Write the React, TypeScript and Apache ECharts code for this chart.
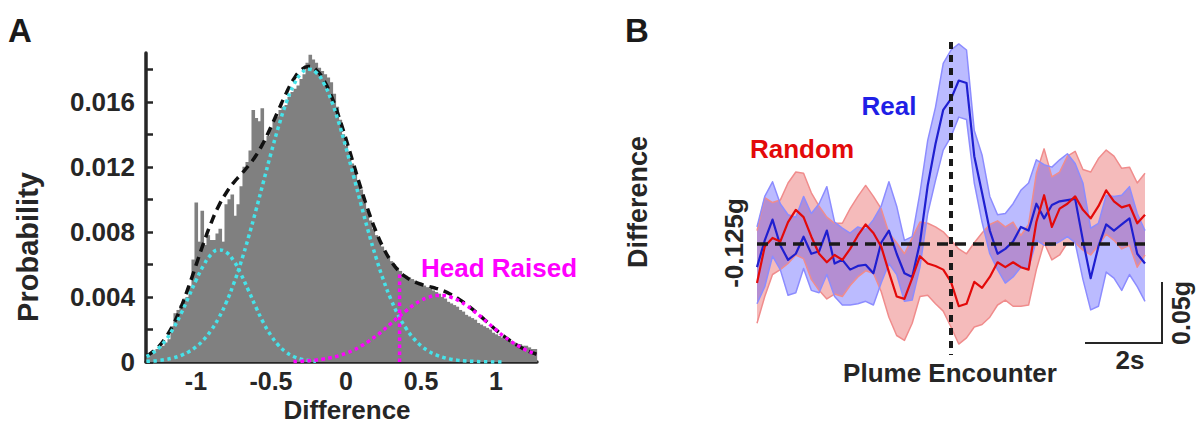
import React, { useEffect, useRef } from 'react';
import * as echarts from 'echarts';

const FONT = '"Liberation Sans", Arial, Helvetica, sans-serif';
const INK = '#262626';

// ---------- Panel A: histogram of "Difference" ----------
const HIST_FIRST_CENTER = -1.32;
const HIST_BIN = 0.02;
const HIST = [
  0.0003, 0.0005, 0.0006, 0.0008, 0.0009, 0.0010, 0.0012, 0.0014, 0.0022, 0.0030,
  0.0032, 0.0035, 0.0039, 0.0040, 0.0046, 0.0063, 0.0098, 0.0074, 0.0093, 0.0072,
  0.0078, 0.0075, 0.0075, 0.0079, 0.0082, 0.0074, 0.0097, 0.0100, 0.0103, 0.0090,
  0.0097, 0.0108, 0.0120, 0.0123, 0.0130, 0.0155, 0.0150, 0.0148, 0.0156, 0.0136,
  0.0139, 0.0144, 0.0148, 0.0151, 0.0155, 0.0157, 0.0158, 0.0163, 0.0166, 0.0168,
  0.0170, 0.0174, 0.0177, 0.0184, 0.0189, 0.0186, 0.0184, 0.0181, 0.0179, 0.0177,
  0.0175, 0.0172, 0.0165, 0.0157, 0.0149, 0.0140, 0.0133, 0.0128, 0.0122, 0.0117,
  0.0111, 0.0106, 0.0098, 0.0093, 0.0087, 0.0082, 0.0078, 0.0075, 0.0071, 0.0068,
  0.0065, 0.0062, 0.0060, 0.0058, 0.0056, 0.0054, 0.0053, 0.0052, 0.0051, 0.0050,
  0.0049, 0.0048, 0.0047, 0.0046, 0.0045, 0.0044, 0.0043, 0.0042, 0.0040, 0.0039,
  0.0037, 0.0036, 0.0035, 0.0034, 0.0032, 0.0031, 0.0029, 0.0028, 0.0027, 0.0026,
  0.0024, 0.0023, 0.0022, 0.0021, 0.0020, 0.0018, 0.0017, 0.0016, 0.0015, 0.0014,
  0.0013, 0.0013, 0.0012, 0.0011, 0.0011, 0.0010, 0.0010, 0.0009, 0.0008, 0.0008,
];

const FIT_X = [
  -1.33, -1.3, -1.25, -1.2, -1.15, -1.1, -1.05, -1.0, -0.95, -0.9,
  -0.85, -0.8, -0.75, -0.7, -0.65, -0.6, -0.55, -0.5, -0.45, -0.4,
  -0.35, -0.3, -0.25, -0.2, -0.15, -0.1, -0.05, 0.0, 0.05, 0.1,
  0.15, 0.2, 0.25, 0.3, 0.35, 0.4, 0.45, 0.5, 0.55, 0.6,
  0.65, 0.7, 0.75, 0.8, 0.85, 0.9, 0.95, 1.0, 1.05, 1.1,
  1.15, 1.2, 1.25, 1.27,
];
const FIT_LEFT = [
  0.00034, 0.00049, 0.00084, 0.00137, 0.00208, 0.00296, 0.00398, 0.00501, 0.00593, 0.0066,
  0.00689, 0.00676, 0.00624, 0.0054, 0.0044, 0.00336, 0.00241, 0.00163, 0.00103, 0.00061,
  0.00034, 0.00018, 0.00009, 0.00004, null, null, null, null, null, null,
  null, null, null, null, null, null, null, null, null, null,
  null, null, null, null, null, null, null, null, null, null,
  null, null, null, null,
];
const FIT_MAIN = [
  0.00004, 0.000055, 0.000094, 0.000157, 0.000254, 0.000401, 0.000618, 0.000927, 0.001356, 0.00193,
  0.00268, 0.00362, 0.00478, 0.00613, 0.00767, 0.00934, 0.01109, 0.01283, 0.01446, 0.01589,
  0.017, 0.01772, 0.018, 0.01781, 0.01717, 0.01613, 0.01477, 0.01317, 0.01145, 0.00969,
  0.00799, 0.00643, 0.00503, 0.00384, 0.00285, 0.00207, 0.00146, 0.001, 0.00067, 0.00044,
  0.00028, 0.00017, 0.0001, 0.00006, 0.00004, 0.00002, 0.00001, 0, 0, null,
  null, null, null, null,
];
const FIT_RAISED = [
  null, null, null, null, null, null, null, null, null, null,
  null, null, null, null, null, null, null, null, null, null,
  0.00003, 0.00005, 0.00008, 0.00012, 0.00018, 0.00027, 0.00038, 0.00054, 0.00073, 0.00098,
  0.00127, 0.0016, 0.00197, 0.00237, 0.00277, 0.00315, 0.0035, 0.00378, 0.00398, 0.00409,
  0.00409, 0.00398, 0.00378, 0.0035, 0.00315, 0.00277, 0.00237, 0.00197, 0.0016, 0.00127,
  0.00098, 0.00073, 0.00054, 0.00047,
];
const FIT_SUM = [
  0.00038, 0.00055, 0.00093, 0.00153, 0.00233, 0.00336, 0.0046, 0.00594, 0.00729, 0.00853,
  0.00957, 0.01038, 0.01102, 0.01153, 0.01207, 0.0127, 0.0135, 0.01446, 0.01549, 0.0165,
  0.01737, 0.01795, 0.01817, 0.01797, 0.01735, 0.0164, 0.01515, 0.01371, 0.01218, 0.01067,
  0.00926, 0.00803, 0.007, 0.00621, 0.00562, 0.00522, 0.00496, 0.00478, 0.00465, 0.00453,
  0.00437, 0.00415, 0.00388, 0.00356, 0.00319, 0.00279, 0.00238, 0.00197, 0.0016, 0.00127,
  0.00098, 0.00073, 0.00054, 0.00047,
];
const HEAD_RAISED_X = 0.357;
const HEAD_RAISED_TOP = 0.0055;
const X_TICKS_A = [-1, -0.5, 0, 0.5, 1];
const Y_TICKS_A = [0, 0.002, 0.004, 0.006, 0.008, 0.01, 0.012, 0.014, 0.016, 0.018];
const Y_LABELS_A = [0, 0.004, 0.008, 0.012, 0.016];

// ---------- Panel B: difference around plume encounter (t in s, value in g) ----------
const T_START = -5;
const T_STEP = 0.2;
const BASELINE = -0.125;
const BLUE_MEAN = [
  -0.144, -0.122, -0.105, -0.126, -0.138, -0.133, -0.119, -0.133, -0.131, -0.114,
  -0.141, -0.138, -0.146, -0.143, -0.142, -0.149, -0.124, -0.114, -0.133, -0.149,
  -0.152, -0.124, -0.077, -0.043, -0.015, -0.006, 0.009, 0.007, -0.053, -0.083,
  -0.114, -0.133, -0.129, -0.123, -0.111, -0.114, -0.092, -0.104, -0.093, -0.09,
  -0.089, -0.088, -0.122, -0.153, -0.127, -0.109, -0.114, -0.109, -0.104, -0.133, -0.141,
];
const BLUE_UP = [
  -0.111, -0.086, -0.074, -0.092, -0.101, -0.103, -0.086, -0.1, -0.092, -0.078,
  -0.107, -0.112, -0.116, -0.111, -0.113, -0.105, -0.094, -0.074, -0.094, -0.122,
  -0.119, -0.083, -0.04, -0.013, 0.023, 0.034, 0.039, 0.034, -0.032, -0.052,
  -0.086, -0.101, -0.1, -0.092, -0.081, -0.075, -0.056, -0.06, -0.062, -0.056,
  -0.051, -0.059, -0.075, -0.112, -0.108, -0.085, -0.086, -0.085, -0.078, -0.1, -0.114,
];
const BLUE_LO = [
  -0.174, -0.16, -0.135, -0.146, -0.167, -0.165, -0.145, -0.163, -0.165, -0.15,
  -0.168, -0.175, -0.175, -0.174, -0.172, -0.175, -0.157, -0.141, -0.15, -0.172,
  -0.171, -0.144, -0.1, -0.073, -0.048, -0.037, -0.021, -0.023, -0.075, -0.107,
  -0.133, -0.146, -0.157, -0.152, -0.144, -0.145, -0.122, -0.126, -0.126, -0.123,
  -0.119, -0.124, -0.154, -0.179, -0.176, -0.148, -0.153, -0.163, -0.15, -0.16, -0.172,
];
const RED_MEAN = [
  -0.157, -0.127, -0.12, -0.123, -0.107, -0.097, -0.103, -0.119, -0.133, -0.14,
  -0.134, -0.138, -0.129, -0.118, -0.109, -0.116, -0.127, -0.148, -0.168, -0.17,
  -0.153, -0.135, -0.141, -0.143, -0.146, -0.156, -0.176, -0.174, -0.156, -0.161,
  -0.152, -0.14, -0.144, -0.14, -0.144, -0.146, -0.107, -0.085, -0.111, -0.096,
  -0.092, -0.086, -0.097, -0.104, -0.094, -0.081, -0.09, -0.095, -0.093, -0.108, -0.101,
];
const RED_UP = [
  -0.114, -0.087, -0.091, -0.089, -0.075, -0.066, -0.067, -0.083, -0.094, -0.103,
  -0.108, -0.108, -0.096, -0.086, -0.077, -0.086, -0.096, -0.116, -0.124, -0.133,
  -0.12, -0.107, -0.108, -0.111, -0.115, -0.122, -0.129, -0.133, -0.124, -0.116,
  -0.109, -0.106, -0.111, -0.107, -0.118, -0.109, -0.067, -0.047, -0.07, -0.066,
  -0.053, -0.049, -0.064, -0.066, -0.055, -0.048, -0.053, -0.063, -0.062, -0.075, -0.067,
];
const RED_LO = [
  -0.19, -0.168, -0.15, -0.146, -0.141, -0.134, -0.137, -0.154, -0.163, -0.17,
  -0.166, -0.168, -0.159, -0.152, -0.147, -0.149, -0.164, -0.185, -0.2, -0.204,
  -0.19, -0.168, -0.167, -0.174, -0.18, -0.193, -0.207, -0.202, -0.193, -0.191,
  -0.185, -0.175, -0.171, -0.176, -0.176, -0.175, -0.146, -0.124, -0.138, -0.134,
  -0.124, -0.124, -0.13, -0.134, -0.126, -0.117, -0.122, -0.129, -0.126, -0.144, -0.134,
];
const ENCOUNTER_LINE = [0.0406, -0.216];

const T = BLUE_MEAN.map((_, i) => Math.round((T_START + T_STEP * i) * 1000) / 1000);
const pairs = (xs: number[], ys: (number | null)[]) =>
  xs.map((x, i) => [x, ys[i]]).filter((d) => d[1] !== null);

function bandSeries(up: number[], lo: number[], fill: string) {
  return {
    type: 'custom',
    xAxisIndex: 1,
    yAxisIndex: 1,
    silent: true,
    data: [[0, 0]],
    renderItem: (_params: any, api: any) => {
      const pts: number[][] = [];
      for (let i = 0; i < T.length; i++) pts.push(api.coord([T[i], up[i]]));
      for (let i = T.length - 1; i >= 0; i--) pts.push(api.coord([T[i], lo[i]]));
      return { type: 'polygon', shape: { points: pts }, style: { fill } };
    },
    z: 1,
  };
}

function lineB(ys: number[], color: string, width: number, z: number) {
  return {
    type: 'line',
    xAxisIndex: 1,
    yAxisIndex: 1,
    data: pairs(T, ys),
    showSymbol: false,
    silent: true,
    lineStyle: { color, width, join: 'round' },
    z,
  };
}

function txt(text: string, x: number, y: number, size: number, fill: string, opts: any = {}) {
  return {
    type: 'text',
    x,
    y,
    rotation: opts.rotation || 0,
    z: 100,
    style: {
      text,
      fill,
      font: `bold ${size}px ${FONT}`,
      align: opts.align || 'center',
      verticalAlign: 'middle',
    },
  };
}

const axisText = { color: INK, fontSize: 25, fontWeight: 'bold', fontFamily: FONT };

const option: any = {
  animation: false,
  backgroundColor: '#ffffff',
  grid: [
    { left: 146, top: 53, width: 391, height: 309 },
    { left: 757, top: 30.5, width: 388, height: 366 },
  ],
  xAxis: [
    {
      gridIndex: 0,
      type: 'value',
      min: -1.333,
      max: 1.273,
      axisLine: { show: true, onZero: false, lineStyle: { color: INK, width: 3.5 } },
      axisTick: { show: true, inside: true, length: 7, customValues: X_TICKS_A, lineStyle: { color: INK, width: 2.5 } },
      axisLabel: { customValues: X_TICKS_A, margin: 6, ...axisText },
      splitLine: { show: false },
    },
    { gridIndex: 1, type: 'value', min: -5, max: 5, show: false },
  ],
  yAxis: [
    {
      gridIndex: 0,
      type: 'value',
      min: 0,
      max: 0.019,
      axisLine: { show: true, onZero: false, lineStyle: { color: INK, width: 3.5 } },
      axisTick: { show: true, inside: true, length: 7, customValues: Y_TICKS_A, lineStyle: { color: INK, width: 2.5 } },
      axisLabel: { customValues: Y_LABELS_A, margin: 11, ...axisText, fontSize: 26 },
      splitLine: { show: false },
    },
    { gridIndex: 1, type: 'value', min: -0.25, max: 0.05, show: false },
  ],
  series: [
    {
      type: 'custom',
      xAxisIndex: 0,
      yAxisIndex: 0,
      silent: true,
      data: HIST.map((v, i) => [Math.round((HIST_FIRST_CENTER + HIST_BIN * i) * 1000) / 1000, v]),
      renderItem: (_params: any, api: any) => {
        const x = api.value(0);
        const v = api.value(1);
        const p0 = api.coord([x - HIST_BIN / 2, v]);
        const p1 = api.coord([x + HIST_BIN / 2, 0]);
        return {
          type: 'rect',
          shape: { x: p0[0], y: p0[1], width: p1[0] - p0[0] + 0.6, height: p1[1] - p0[1] },
          style: { fill: '#808080' },
        };
      },
      z: 1,
    },
    {
      type: 'line', xAxisIndex: 0, yAxisIndex: 0, data: pairs(FIT_X, FIT_SUM), smooth: true,
      showSymbol: false, silent: true, lineStyle: { color: '#111111', width: 3.5, type: [9, 6] }, z: 3,
    },
    {
      type: 'line', xAxisIndex: 0, yAxisIndex: 0, data: pairs(FIT_X, FIT_LEFT), smooth: true,
      showSymbol: false, silent: true, lineStyle: { color: '#45e3ea', width: 3.5, type: [3.5, 3.5] }, z: 4,
    },
    {
      type: 'line', xAxisIndex: 0, yAxisIndex: 0, data: pairs(FIT_X, FIT_MAIN), smooth: true,
      showSymbol: false, silent: true, lineStyle: { color: '#45e3ea', width: 3.5, type: [3.5, 3.5] }, z: 4,
    },
    {
      type: 'line', xAxisIndex: 0, yAxisIndex: 0, data: pairs(FIT_X, FIT_RAISED), smooth: true,
      showSymbol: false, silent: true, lineStyle: { color: '#ff00ff', width: 3.5, type: [3.5, 3.5] }, z: 5,
    },
    {
      type: 'line', xAxisIndex: 0, yAxisIndex: 0,
      data: [[HEAD_RAISED_X, 0], [HEAD_RAISED_X, HEAD_RAISED_TOP]],
      showSymbol: false, silent: true, lineStyle: { color: '#ff00ff', width: 3.5, type: [3.5, 3.5] }, z: 5,
    },
    // Panel B
    bandSeries(RED_UP, RED_LO, 'rgba(225,60,60,0.35)'),
    bandSeries(BLUE_UP, BLUE_LO, 'rgba(60,60,255,0.35)'),
    lineB(RED_UP, '#f08c8c', 1.5, 2),
    lineB(RED_LO, '#f08c8c', 1.5, 2),
    lineB(BLUE_UP, '#8c8cff', 1.5, 2),
    lineB(BLUE_LO, '#8c8cff', 1.5, 2),
    lineB(BLUE_MEAN, '#1f1fd0', 2.2, 3),
    lineB(RED_MEAN, '#e30a0a', 2.2, 4),
    {
      type: 'line', xAxisIndex: 1, yAxisIndex: 1, data: [[T_START, BASELINE], [T[T.length - 1], BASELINE]],
      showSymbol: false, silent: true, lineStyle: { color: '#1a1a1a', width: 3.5, type: [11, 7] }, z: 6,
    },
    {
      type: 'line', xAxisIndex: 1, yAxisIndex: 1, data: [[0, ENCOUNTER_LINE[0]], [0, ENCOUNTER_LINE[1]]],
      showSymbol: false, silent: true, lineStyle: { color: '#1a1a1a', width: 4, type: [7, 6] }, z: 6,
    },
  ],
  graphic: [
    txt('A', 20, 30, 33, '#1a1a1a'),
    txt('B', 637, 30, 33, '#1a1a1a'),
    txt('Probability', 28, 247, 29, INK, { rotation: Math.PI / 2 }),
    txt('Difference', 347, 410, 26, INK),
    txt('Head Raised', 421, 268, 26, '#ff00ff', { align: 'left' }),
    txt('Difference', 638, 202, 27, INK, { rotation: Math.PI / 2 }),
    txt('-0.125g', 734, 243, 26, INK, { rotation: Math.PI / 2 }),
    txt('Real', 889, 106, 26, '#1f1fe6'),
    txt('Random', 802, 149, 26, '#e30a0a'),
    txt('Plume Encounter', 950, 373, 26, INK),
    txt('2s', 1130, 360, 26, INK),
    txt('0.05g', 1181, 313, 25, INK, { rotation: Math.PI / 2 }),
    { type: 'line', z: 100, shape: { x1: 1162, y1: 282, x2: 1162, y2: 344 }, style: { stroke: INK, lineWidth: 2 } },
    { type: 'line', z: 100, shape: { x1: 1085, y1: 343, x2: 1163, y2: 343 }, style: { stroke: INK, lineWidth: 2 } },
  ],
};

export default function App() {
  const ref = useRef<HTMLDivElement>(null);
  useEffect(() => {
    const chart = echarts.init(ref.current as HTMLDivElement, null, { renderer: 'svg' });
    chart.setOption(option);
    return () => chart.dispose();
  }, []);
  return (
    <div
      ref={ref}
      style={{ position: 'fixed', left: 0, top: 0, width: 1199, height: 426, background: '#fff' }}
    />
  );
}
